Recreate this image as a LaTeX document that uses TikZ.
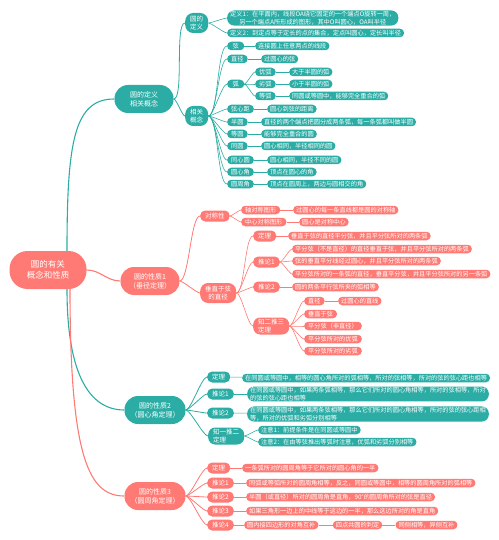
\documentclass[tikz,border=0pt]{standalone}
\usepackage{fontspec}
\setmainfont{Noto Sans CJK SC}
\usepackage{xcolor}
\usepackage{tikz}
\usetikzlibrary{positioning}

\definecolor{tealc}{RGB}{43,173,165}
\definecolor{salmc}{RGB}{255,122,116}

\begin{document}
\begin{tikzpicture}[
    x=1pt, y=1pt,
    every node/.style={text=white, inner ysep=0.8pt},
    rootbox/.style={
        rectangle, fill=salmc, rounded corners=18pt, align=center,
        minimum height=38pt, minimum width=77pt,
        font=\fontsize{8.5}{11}\selectfont
    },
    bigbox/.style={
        rectangle, fill=#1, rounded corners=13.5pt, align=center,
        minimum height=28pt, minimum width=59pt, inner xsep=6pt,
        font=\fontsize{7}{9}\selectfont
    },
    bigbox/.default=tealc,
    midbox/.style={
        rectangle, fill=#1, rounded corners=5pt, align=center,
        minimum height=11pt, inner xsep=5pt,
        font=\fontsize{6.5}{8}\selectfont
    },
    midbox/.default=tealc,
    leaf/.style={
        rectangle, fill=#1, rounded corners=4pt, align=center,
        minimum height=8.5pt, inner xsep=3pt,
        font=\fontsize{6.2}{7.6}\selectfont
    },
    leaf/.default=tealc,
    tag/.style={leaf=#1, inner xsep=4pt, minimum width=17pt},
    tag/.default=tealc,
    tealline/.style={draw=tealc, line width=0.6pt},
    salmline/.style={draw=salmc, line width=0.6pt},
    fanline/.style={out=0, in=180, looseness=0.35}
]
\useasboundingbox (0,0) rectangle (498,-540);

% Root
\node[rootbox] (root) at (48,-270) {圆的有关\\概念和性质};

% Branch 1
\node[bigbox] (defc) at (144,-99) {圆的定义\\相关概念};
\node[midbox, minimum height=20pt, rounded corners=8pt, anchor=west] (dingyi) at (185,-23) {圆的\\定义};
\node[leaf, rounded corners=7pt, anchor=west] (def1) at (227,-18) {
    定义1：在平面内，线段OA绕它固定的一个端点O旋转一周，\\
    另一个端点A所形成的图形，其中O叫圆心，OA叫半径
};
\node[leaf, anchor=west] (def2) at (227,-33) {定义2：到定点等于定长的点的集合，定点叫圆心，定长叫半径};

\node[midbox, minimum height=20pt, rounded corners=8pt, anchor=west] (concept) at (185,-116) {相关\\概念};
\node[tag, anchor=west] (xian) at (227,-46) {弦};
\node[leaf, anchor=west] (xiand) at (255,-46) {连接圆上任意两点的线段};
\node[tag, anchor=west] (zhij) at (227,-59) {直径};
\node[leaf, anchor=west] (zhijd) at (261,-59) {过圆心的弦};
\node[tag, anchor=west] (hu) at (227,-84) {弧};
\node[tag, anchor=west] (youhu) at (255,-72) {优弧};
\node[leaf, anchor=west] (youhud) at (289,-72) {大于半圆的弧};
\node[tag, anchor=west] (liehu) at (255,-84) {劣弧};
\node[leaf, anchor=west] (liehud) at (289,-84) {小于半圆的弧};
\node[tag, anchor=west] (denghu) at (255,-96) {等弧};
\node[leaf, anchor=west] (denghud) at (289,-96) {同圆或等圆中，能够完全重合的弧};
\node[tag, anchor=west] (xxj) at (227,-109) {弦心距};
\node[leaf, anchor=west] (xxjd) at (267,-109) {圆心到弦的距离};
\node[tag, anchor=west] (banyuan) at (227,-122) {半圆};
\node[leaf, anchor=west] (banyuand) at (261,-122) {直径的两个端点把圆分成两条弧，每一条弧都叫做半圆};
\node[tag, anchor=west] (dengyuan) at (227,-134) {等圆};
\node[leaf, anchor=west] (dengyuand) at (261,-134) {能够完全重合的圆};
\node[tag, anchor=west] (tongyuan) at (227,-146) {同圆};
\node[leaf, anchor=west] (tongyuand) at (261,-146) {圆心相同，半径相同的圆};
\node[tag, anchor=west] (txy) at (227,-160) {同心圆};
\node[leaf, anchor=west] (txyd) at (267,-160) {圆心相同，半径不同的圆};
\node[tag, anchor=west] (yxj) at (227,-172) {圆心角};
\node[leaf, anchor=west] (yxjd) at (267,-172) {顶点在圆心的角};
\node[tag, anchor=west] (yzj) at (227,-184) {圆周角};
\node[leaf, anchor=west] (yzjd) at (267,-184) {顶点在圆周上，两边与圆相交的角};

% Branch 2
\node[bigbox=salmc] (prop1) at (150,-281) {圆的性质1\\（垂径定理）};
\node[midbox=salmc, anchor=west] (sym) at (200,-216) {对称性};
\node[tag=salmc, anchor=west] (axsym) at (241,-210) {轴对称图形};
\node[leaf=salmc, anchor=west] (axsymd) at (293,-210) {过圆心的每一条直线都是圆的对称轴};
\node[tag=salmc, anchor=west] (cesym) at (241,-222) {中心对称图形};
\node[leaf=salmc, anchor=west] (cesymd) at (299,-222) {圆心是对称中心};

\node[midbox=salmc, minimum height=20pt, rounded corners=8pt, anchor=west] (perp) at (200,-293) {垂直于弦\\的直径};
\node[midbox=salmc, anchor=west] (thm1) at (253,-236) {定理};
\node[leaf=salmc, anchor=west] (thm1d) at (288,-236) {垂直于弦的直径平分弦，并且平分弦所对的两条弧};
\node[midbox=salmc, anchor=west] (cor11) at (253,-262) {推论1};
\node[leaf=salmc, anchor=west] (cor11a) at (292,-249) {平分弦（不是直径）的直径垂直于弦，并且平分弦所对的两条弧};
\node[leaf=salmc, anchor=west] (cor11b) at (292,-261) {弦的垂直平分线经过圆心，并且平分弦所对的两条弧};
\node[leaf=salmc, anchor=west] (cor11c) at (292,-274) {平分弦所对的一条弧的直径，垂直平分弦，并且平分弦所对的另一条弧};
\node[midbox=salmc, anchor=west] (cor12) at (253,-287) {推论2};
\node[leaf=salmc, anchor=west] (cor12d) at (292,-287) {圆的两条平行弦所夹的弧相等};
\node[midbox=salmc, minimum height=17pt, rounded corners=7pt, align=left, anchor=west] (twothree) at (253,-326) {知二推三\\定理};
\node[tag=salmc, anchor=west] (tt1) at (304,-301) {直径};
\node[leaf=salmc, anchor=west] (tt1d) at (338,-301) {过圆心的直线};
\node[tag=salmc, anchor=west] (tt2) at (304,-314) {垂直于弦};
\node[tag=salmc, anchor=west] (tt3) at (304,-326) {平分弦（非直径）};
\node[tag=salmc, anchor=west] (tt4) at (304,-339) {平分弦所对的优弧};
\node[tag=salmc, anchor=west] (tt5) at (304,-351) {平分弦所对的劣弧};

% Branch 3
\node[bigbox] (prop2) at (155,-410) {圆的性质2\\（圆心角定理）};
\node[midbox, anchor=west] (thm2) at (207,-377) {定理};
\node[leaf, anchor=west] (thm2d) at (242,-378) {在同圆或等圆中，相等的圆心角所对的弧相等，所对的弦相等，所对的弦的弦心距也相等};
\node[midbox, anchor=west] (cor21) at (207,-394) {推论1};
\node[leaf, rounded corners=7pt, align=left, anchor=west] (cor21d) at (247,-394) {
    在同圆或等圆中，如果两条弧相等，那么它们所对的圆心角相等，所对的弦相等，所对\\
    的弦的弦心距也相等
};
\node[midbox, anchor=west] (cor22) at (207,-413) {推论2};
\node[leaf, rounded corners=7pt, align=left, anchor=west] (cor22d) at (247,-414) {
    在同圆或等圆中，如果两条弦相等，那么它们所对的圆心角相等，所对的弦的弦心距相\\
    等，所对的优弧和劣弧分别相等
};
\node[midbox, minimum height=17pt, rounded corners=7pt, align=left, anchor=west] (onetwo) at (208,-436) {知一推二\\定理};
\node[leaf, anchor=west] (note1) at (258,-430) {注意1：前提条件是在同圆或等圆中};
\node[leaf, anchor=west] (note2) at (258,-442) {注意2：在由等弦推出等弧时注意，优弧和劣弧分别相等};

% Branch 4
\node[bigbox=salmc] (prop3) at (155,-496) {圆的性质3\\（圆周角定理）};
\node[midbox=salmc, anchor=west] (thm3) at (207,-468) {定理};
\node[leaf=salmc, anchor=west] (thm3d) at (242,-468) {一条弧所对的圆周角等于它所对的圆心角的一半};
\node[midbox=salmc, anchor=west] (cor31) at (207,-483) {推论1};
\node[leaf=salmc, anchor=west] (cor31d) at (246,-483) {同弧或等弧所对的圆周角相等，反之，同圆或等圆中，相等的圆周角所对的弧相等};
\node[midbox=salmc, anchor=west] (cor32) at (207,-497) {推论2};
\node[leaf=salmc, anchor=west] (cor32d) at (246,-497) {半圆（或直径）所对的圆周角是直角，90°的圆周角所对的弦是直径};
\node[midbox=salmc, anchor=west] (cor33) at (207,-511) {推论3};
\node[leaf=salmc, anchor=west] (cor33d) at (246,-511) {如果三角形一边上的中线等于这边的一半，那么这边所对的角是直角};
\node[midbox=salmc, anchor=west] (cor34) at (207,-525) {推论4};
\node[leaf=salmc, anchor=west] (cor34a) at (244,-525) {圆内接四边形的对角互补};
\node[leaf=salmc, right=14pt of cor34a] (cor34b) {四点共圆的判定};
\node[leaf=salmc, right=13pt of cor34b] (cor34c) {同侧相等，异侧互补};

% Root links
\draw[draw=tealc, line width=1.1pt] ([xshift=19pt]root.north) .. controls +(0,110) and +(-40,0) .. (defc.west);
\draw[draw=salmc, line width=1.1pt] (root.east) to[out=0, in=180] (prop1.west);
\draw[draw=tealc, line width=1.1pt] ([xshift=19pt]root.south) .. controls +(0,-85) and +(-35,0) .. (prop2.west);
\draw[draw=salmc, line width=1.1pt] ([xshift=22pt]root.south) .. controls +(0,-170) and +(-35,0) .. (prop3.west);

% Branch 1 links
\draw[tealline, line width=0.8pt] (defc.east) to[fanline] (dingyi.west);
\draw[tealline, line width=0.8pt] (defc.east) to[fanline] (concept.west);
\draw[tealline] (dingyi.east) to[fanline] (def1.west);
\draw[tealline] (dingyi.east) to[fanline] (def2.west);
\draw[tealline] (concept.east) to[fanline] (xian.west);
\draw[tealline] (concept.east) to[fanline] (zhij.west);
\draw[tealline] (concept.east) to[fanline] (hu.west);
\draw[tealline] (concept.east) to[fanline] (xxj.west);
\draw[tealline] (concept.east) to[fanline] (banyuan.west);
\draw[tealline] (concept.east) to[fanline] (dengyuan.west);
\draw[tealline] (concept.east) to[fanline] (tongyuan.west);
\draw[tealline] (concept.east) to[fanline] (txy.west);
\draw[tealline] (concept.east) to[fanline] (yxj.west);
\draw[tealline] (concept.east) to[fanline] (yzj.west);
\draw[tealline] (hu.east) to[fanline] (youhu.west);
\draw[tealline] (hu.east) to[fanline] (liehu.west);
\draw[tealline] (hu.east) to[fanline] (denghu.west);
\draw[tealline] (xian) -- (xiand);
\draw[tealline] (zhij) -- (zhijd);
\draw[tealline] (youhu) -- (youhud);
\draw[tealline] (liehu) -- (liehud);
\draw[tealline] (denghu) -- (denghud);
\draw[tealline] (xxj) -- (xxjd);
\draw[tealline] (banyuan) -- (banyuand);
\draw[tealline] (dengyuan) -- (dengyuand);
\draw[tealline] (tongyuan) -- (tongyuand);
\draw[tealline] (txy) -- (txyd);
\draw[tealline] (yxj) -- (yxjd);
\draw[tealline] (yzj) -- (yzjd);

% Branch 2 links
\draw[salmline, line width=0.8pt] (prop1.east) to[fanline] (sym.west);
\draw[salmline, line width=0.8pt] (prop1.east) to[fanline] (perp.west);
\draw[salmline] (sym.east) to[fanline] (axsym.west);
\draw[salmline] (sym.east) to[fanline] (cesym.west);
\draw[salmline] (axsym) -- (axsymd);
\draw[salmline] (cesym) -- (cesymd);
\draw[salmline] (perp.east) to[fanline] (thm1.west);
\draw[salmline] (perp.east) to[fanline] (cor11.west);
\draw[salmline] (perp.east) to[fanline] (cor12.west);
\draw[salmline] (perp.east) to[fanline] (twothree.west);
\draw[salmline] (thm1) -- (thm1d);
\draw[salmline] (cor11.east) to[fanline] (cor11a.west);
\draw[salmline] (cor11.east) to[fanline] (cor11b.west);
\draw[salmline] (cor11.east) to[fanline] (cor11c.west);
\draw[salmline] (cor12) -- (cor12d);
\draw[salmline] (twothree.east) to[fanline] (tt1.west);
\draw[salmline] (twothree.east) to[fanline] (tt2.west);
\draw[salmline] (twothree.east) to[fanline] (tt3.west);
\draw[salmline] (twothree.east) to[fanline] (tt4.west);
\draw[salmline] (twothree.east) to[fanline] (tt5.west);
\draw[salmline] (tt1) -- (tt1d);

% Branch 3 links
\draw[tealline, line width=0.8pt] (prop2.east) to[fanline] (thm2.west);
\draw[tealline, line width=0.8pt] (prop2.east) to[fanline] (cor21.west);
\draw[tealline, line width=0.8pt] (prop2.east) to[fanline] (cor22.west);
\draw[tealline, line width=0.8pt] (prop2.east) to[fanline] (onetwo.west);
\draw[tealline] (thm2) -- (thm2d);
\draw[tealline] (cor21) -- (cor21d);
\draw[tealline] (cor22) -- (cor22d);
\draw[tealline] (onetwo.east) to[fanline] (note1.west);
\draw[tealline] (onetwo.east) to[fanline] (note2.west);

% Branch 4 links
\draw[salmline, line width=0.8pt] (prop3.east) to[fanline] (thm3.west);
\draw[salmline, line width=0.8pt] (prop3.east) to[fanline] (cor31.west);
\draw[salmline, line width=0.8pt] (prop3.east) to[fanline] (cor32.west);
\draw[salmline, line width=0.8pt] (prop3.east) to[fanline] (cor33.west);
\draw[salmline, line width=0.8pt] (prop3.east) to[fanline] (cor34.west);
\draw[salmline] (thm3) -- (thm3d);
\draw[salmline] (cor31) -- (cor31d);
\draw[salmline] (cor32) -- (cor32d);
\draw[salmline] (cor33) -- (cor33d);
\draw[salmline] (cor34) -- (cor34a);
\draw[salmline] (cor34a) -- (cor34b);
\draw[salmline] (cor34b) -- (cor34c);

\end{tikzpicture}
\end{document}
